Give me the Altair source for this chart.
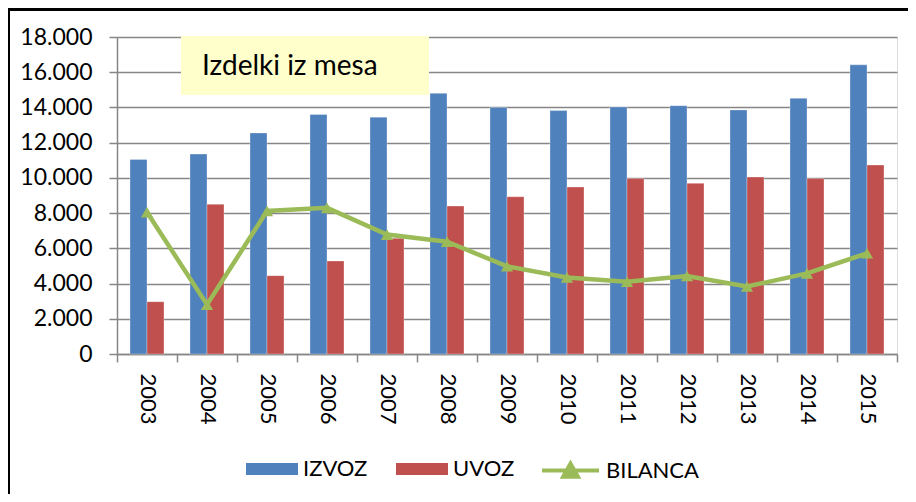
import altair as alt
import pandas as pd

years = ["2003", "2004", "2005", "2006", "2007", "2008", "2009",
         "2010", "2011", "2012", "2013", "2014", "2015"]
izvoz = [11050, 11350, 12550, 13600, 13450, 14800, 14000, 13820, 14030, 14100, 13860, 14520, 16420]
uvoz = [2970, 8500, 4450, 5280, 6570, 8400, 8930, 9480, 9960, 9690, 10050, 9960, 10730]
bilanca = [8050, 2800, 8120, 8300, 6780, 6380, 4980, 4350, 4100, 4430, 3830, 4580, 5720]
y_ticks = [0, 2000, 4000, 6000, 8000, 10000, 12000, 14000, 16000, 18000]
bar_series = ["IZVOZ", "UVOZ"]
bar_colors = ["#4F81BD", "#C0504D"]
line_series = ["BILANCA"]
line_colors = ["#9BBB59"]
title_text = "Izdelki iz mesa"
FONT = "Lato"

bars_df = pd.DataFrame(
    [{"leto": y, "serija": "IZVOZ", "vrednost": v} for y, v in zip(years, izvoz)]
    + [{"leto": y, "serija": "UVOZ", "vrednost": v} for y, v in zip(years, uvoz)]
)
line_df = pd.DataFrame({"leto": years, "serija2": "BILANCA", "vrednost": bilanca})
one = pd.DataFrame({"t": [title_text]})

x_enc = alt.X(
    "leto:N", sort=years, title=None,
    scale=alt.Scale(paddingInner=0, paddingOuter=0),
    axis=alt.Axis(labelAngle=90, labelAlign="left", labelBaseline="middle",
                  labelPadding=11, tickBand="extent", tickSize=8, grid=False,
                  labelFontSize=22, labelFont=FONT, labelColor="black",
                  labelOverlap=False,
                  domainColor="#868686", tickColor="#868686",
                  domainWidth=1.5, tickWidth=1.5),
)
y_enc = alt.Y(
    "vrednost:Q", title=None,
    scale=alt.Scale(domain=[0, 18000], nice=False),
    axis=alt.Axis(values=y_ticks,
                  labelExpr="replace(format(datum.value, ','), ',', '.')",
                  labelFontSize=23, labelFont=FONT, labelColor="black",
                  labelPadding=17, tickSize=8, labelOverlap=False,
                  grid=True, gridColor="#868686", gridWidth=1.6,
                  domainColor="#868686", tickColor="#868686",
                  domainWidth=1.5, tickWidth=1.5),
)

bars = alt.Chart(bars_df).mark_bar(stroke="white", strokeWidth=0.5, strokeOpacity=0.6).encode(
    x=x_enc,
    y=y_enc,
    xOffset=alt.XOffset("serija:N", sort=bar_series,
                        scale=alt.Scale(paddingOuter=0.765, paddingInner=0)),
    fill=alt.Fill("serija:N", sort=bar_series,
                  scale=alt.Scale(domain=bar_series, range=bar_colors),
                  legend=alt.Legend(orient="none", legendX=129, legendY=406,
                                    direction="horizontal", columns=2,
                                    title=None, symbolType="M-1,-0.23H1V0.23H-1Z",
                                    symbolSize=2704, symbolStrokeWidth=0,
                                    labelFontSize=22, labelFont=FONT, labelColor="black",
                                    labelOffset=5, columnPadding=28, padding=0)),
)

line = alt.Chart(line_df).mark_line(strokeWidth=4.5).encode(
    x=x_enc,
    y=y_enc,
    stroke=alt.Stroke("serija2:N",
                      scale=alt.Scale(domain=line_series, range=line_colors),
                      legend=alt.Legend(orient="none", legendX=423, legendY=403,
                                        title=None,
                                        symbolType="M-1,0H1M-0.26,0.22L0,-0.24L0.26,0.22Z",
                                        symbolSize=3249, symbolStrokeWidth=4,
                                        symbolFillColor="#9BBB59",
                                        labelFontSize=22, labelFont=FONT, labelColor="black",
                                        labelOffset=5, padding=0)),
)
points = alt.Chart(line_df).mark_point(shape="triangle-up", filled=True, size=150,
                                       color="#9BBB59", opacity=1).encode(
    x=x_enc,
    y=y_enc,
)

box = alt.Chart(one).mark_rect(fill="#FFFFCC").encode(
    x=alt.value(64), x2=alt.value(312), y=alt.value(-1), y2=alt.value(58)
)
title = alt.Chart(one).mark_text(align="left", baseline="alphabetic", fontSize=28,
                                 font=FONT, color="black").encode(
    x=alt.value(85), y=alt.value(38), text="t:N"
)
border_top = alt.Chart(one).mark_rule(color="black", strokeWidth=3).encode(
    x=alt.value(-109), x2=alt.value(800), y=alt.value(-27.5)
)
border_left = alt.Chart(one).mark_rule(color="black", strokeWidth=2).encode(
    x=alt.value(-108), y=alt.value(-29), y2=alt.value(460)
)

chart = alt.layer(bars, line, points, box, title, border_top, border_left).resolve_scale(
    fill="independent", stroke="independent"
).properties(
    width=780, height=317,
    padding={"left": 109, "top": 29, "right": 11, "bottom": 140},
    autosize=alt.AutoSizeParams(type="none"),
).configure_view(strokeWidth=0).configure(background="white")

chart.save("out.html", embed_options={"renderer": "svg", "actions": False})
